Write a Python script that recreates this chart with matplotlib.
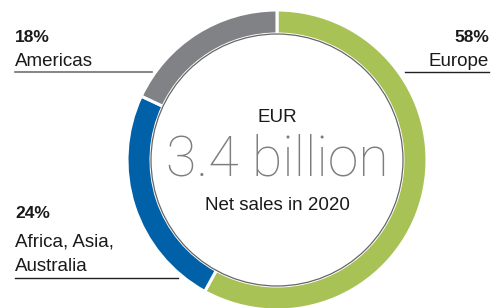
import matplotlib.pyplot as plt
from matplotlib.patches import Circle

# Data
regions = ["Europe", "Africa, Asia,\nAustralia", "Americas"]
shares = [58, 24, 18]
colors = ["#a8c256", "#0061a9", "#808285"]
total_label = "3.4 billion"
currency = "EUR"
subtitle = "Net sales in 2020"

W, H = 503, 308
fig = plt.figure(figsize=(W / 100, H / 100), dpi=100)
ax = fig.add_axes([0, 0, 1, 1])

cx, cy, r_out, ring = 277, H - 160, 150, 24

ax.pie(shares, colors=colors, startangle=90, counterclock=False,
       center=(cx, cy), radius=r_out,
       wedgeprops=dict(width=ring, edgecolor="white", linewidth=2.2))

# thin dark rim on the inside of the ring
ax.add_patch(Circle((cx, cy), r_out - ring, fill=False,
                    edgecolor="#333333", linewidth=0.9, alpha=0.75))

ax.set_xlim(0, W)
ax.set_ylim(0, H)
ax.set_aspect("equal")
ax.axis("off")

lab_font = "Liberation Sans"
txt = "#1a1a1a"
fs = 13.5

# centre text
ax.text(cx, H - 118, currency, ha="center", va="center", fontsize=fs,
        family=lab_font, color=txt)
ax.text(cx, H - 160, total_label, ha="center", va="center", fontsize=40,
        family="Roboto", weight="light", color="#7d7d7d")
ax.text(cx, H - 205, subtitle, ha="center", va="center", fontsize=fs,
        family=lab_font, color=txt)

# labels
ax.text(15, H - 38, f"{shares[2]}%", ha="left", va="center", fontsize=12.5,
        weight="bold", family=lab_font, color=txt)
ax.text(15, H - 61, regions[2], ha="left", va="center", fontsize=fs,
        family=lab_font, color=txt)
ax.plot([15, 152], [H - 72, H - 72], color="#707070", lw=1.2)

ax.text(489, H - 38, f"{shares[0]}%", ha="right", va="center", fontsize=12.5,
        weight="bold", family=lab_font, color=txt)
ax.text(489, H - 61, regions[0], ha="right", va="center", fontsize=fs,
        family=lab_font, color=txt)
ax.plot([405, 489], [H - 72, H - 72], color="#222222", lw=1.0)

ax.text(15, H - 213, f"{shares[1]}%", ha="left", va="center", fontsize=12.5,
        weight="bold", family=lab_font, color=txt)
ax.text(15, H - 254, regions[1], ha="left", va="center", fontsize=fs,
        family=lab_font, color=txt, linespacing=1.55)
ax.plot([15, 178], [H - 278, H - 278], color="#222222", lw=1.0)

fig.savefig("out.png", dpi=100)
